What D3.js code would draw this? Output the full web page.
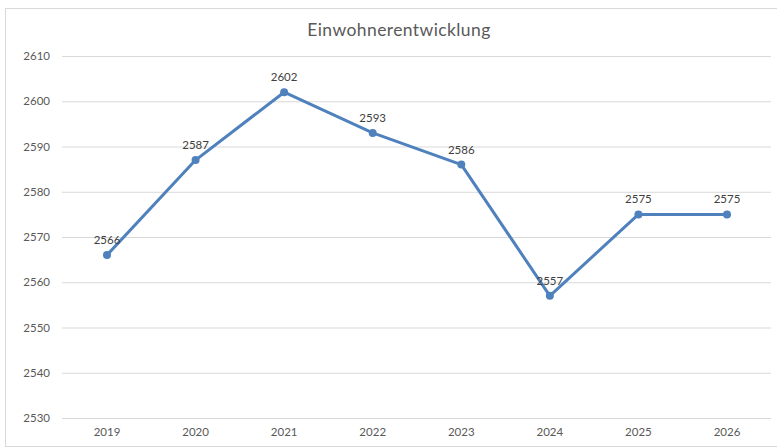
<!DOCTYPE html>
<html>
<head>
<meta charset="utf-8">
<script src="https://cdn.jsdelivr.net/npm/d3@7"></script>
<style>
  body { margin: 0; background: #fff; }
  text { font-family: Lato, "Open Sans", sans-serif; }
</style>
</head>
<body>
<script>
var years = ["2019", "2020", "2021", "2022", "2023", "2024", "2025", "2026"];
var einwohner = [2566, 2587, 2602, 2593, 2586, 2557, 2575, 2575];
var yTicks = [2530, 2540, 2550, 2560, 2570, 2580, 2590, 2600, 2610];

var W = 777, H = 448;
var svg = d3.select("body").append("svg")
    .attr("width", W)
    .attr("height", H);

// chart frame
svg.append("rect")
   .attr("x", 5.5).attr("y", 8.5)
   .attr("width", 780).attr("height", 438)
   .attr("fill", "#fff")
   .attr("stroke", "#d9d9d9");

svg.append("text")
   .attr("x", 399).attr("y", 36)
   .attr("text-anchor", "middle")
   .attr("font-size", 17.5)
   .attr("letter-spacing", 0.4)
   .attr("fill", "#595959")
   .text("Einwohnerentwicklung");

var x = d3.scaleBand()
          .domain(years)
          .range([62.7, 771.3]);

var y = d3.scaleLinear()
          .domain([2530, 2610])
          .range([418, 56]);

var yAxis = d3.axisLeft(y).tickValues(yTicks).tickFormat(d3.format("d"))
              .tickSize(-(771 - 62)).tickPadding(12);
var gy = svg.append("g")
    .attr("transform", "translate(62,0)")
    .call(yAxis);
gy.select(".domain").remove();
gy.selectAll("line").attr("stroke", "#d9d9d9");
gy.selectAll("text").attr("fill", "#595959").attr("font-size", 11.5);

var xAxis = d3.axisBottom(x).tickSize(0).tickPadding(10);
var gx = svg.append("g")
    .attr("transform", "translate(0,418)")
    .call(xAxis);
gx.select(".domain").remove();
gx.selectAll("text").attr("fill", "#595959").attr("font-size", 11.5);

var cx = d => x(d) + x.bandwidth() / 2;

var line = d3.line()
    .x((d, i) => cx(years[i]))
    .y(d => y(d));

svg.append("path")
   .datum(einwohner)
   .attr("d", line)
   .attr("fill", "none")
   .attr("stroke", "#4f81bd")
   .attr("stroke-width", 3)
   .attr("stroke-linejoin", "round");

svg.selectAll("circle.pt")
   .data(einwohner).enter()
   .append("circle")
   .attr("class", "pt")
   .attr("cx", (d, i) => cx(years[i]))
   .attr("cy", d => y(d))
   .attr("r", 4)
   .attr("fill", "#4f81bd");

svg.selectAll("text.lbl")
   .data(einwohner).enter()
   .append("text")
   .attr("class", "lbl")
   .attr("x", (d, i) => cx(years[i]))
   .attr("y", d => y(d) - 11)
   .attr("text-anchor", "middle")
   .attr("font-size", 11.5)
   .attr("fill", "#404040")
   .text(d => d);
</script>
</body>
</html>
